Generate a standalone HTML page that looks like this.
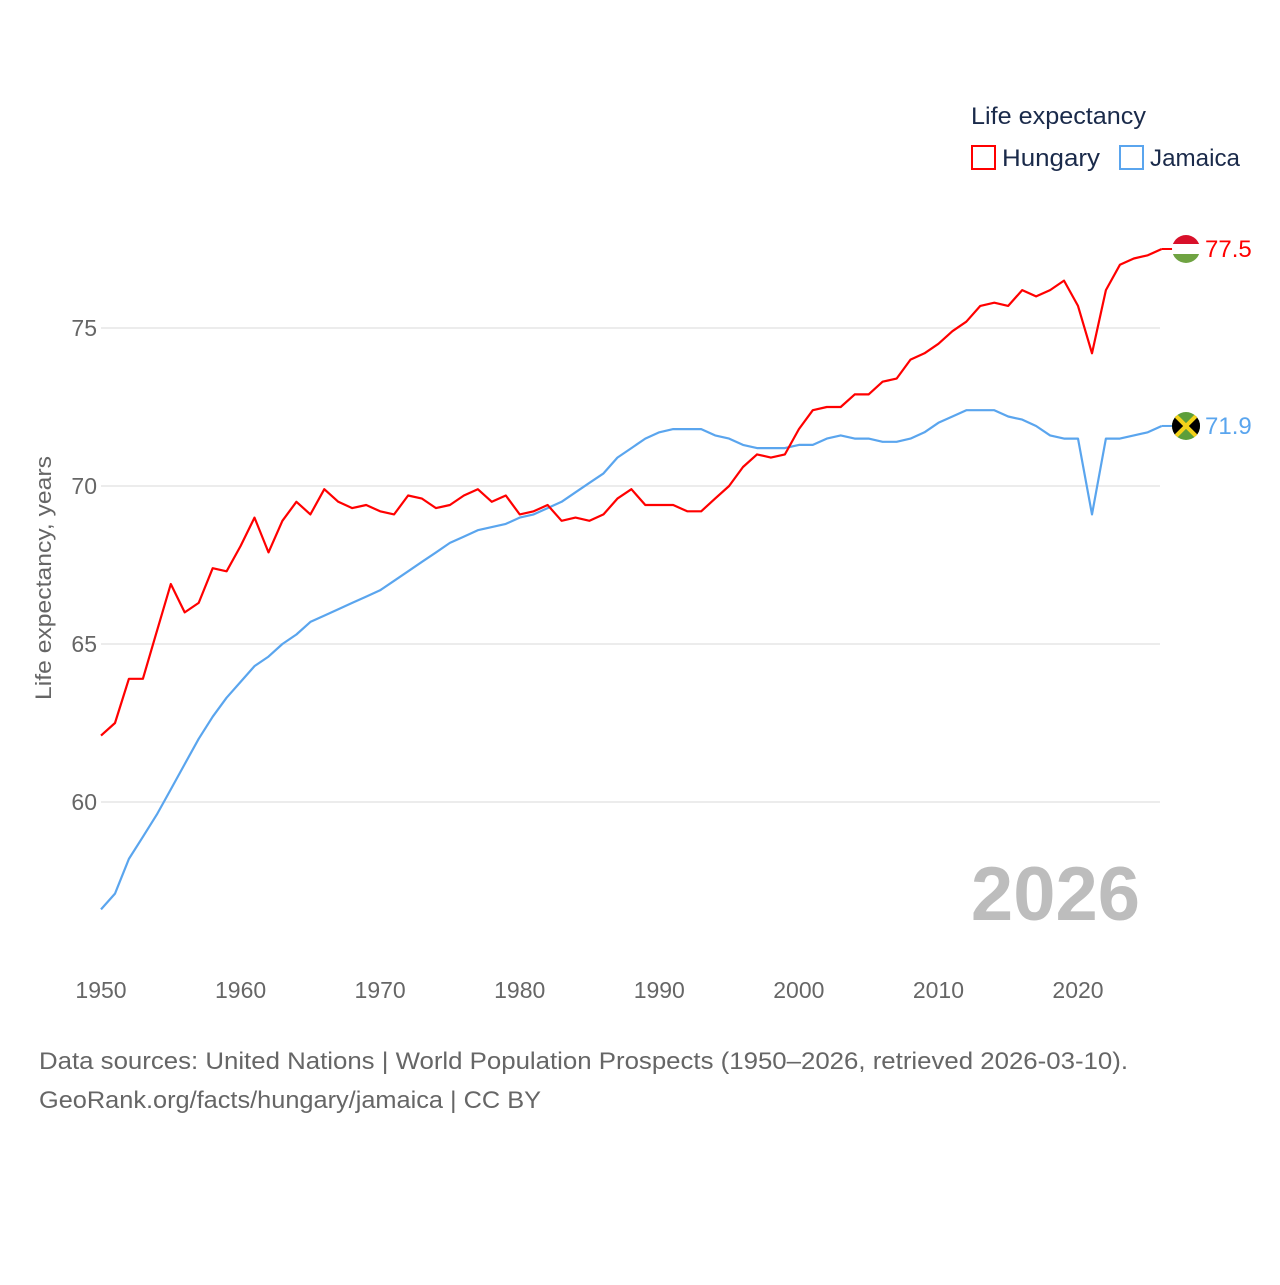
<!DOCTYPE html>
<html><head><meta charset="utf-8"><style>
body{margin:0;background:#fff;}
svg text{font-family:"Liberation Sans",sans-serif;}
</style></head><body>
<svg id="chart" width="1280" height="1280" xmlns="http://www.w3.org/2000/svg">
<defs>
<clipPath id="c1"><circle cx="0" cy="0" r="14"/></clipPath>
</defs>
<g id="grid"></g>
<g id="yticks"></g>
<g id="xticks"></g>
<text transform="translate(51,578) rotate(-90)" text-anchor="middle" font-size="22" fill="#666" textLength="244" lengthAdjust="spacingAndGlyphs">Life expectancy, years</text>
<text x="1140" y="920" text-anchor="end" font-size="76" font-weight="bold" fill="#bdbdbd">2026</text>
<g id="series"></g>
<g>
<text x="971" y="124" font-size="24" fill="#1a2a4a" textLength="175" lengthAdjust="spacingAndGlyphs">Life expectancy</text>
<g>
<rect x="972" y="146" width="23" height="23" fill="none" stroke="#ff0000" stroke-width="2"/>
<text x="1002" y="166" font-size="24" fill="#1a2a4a" textLength="98" lengthAdjust="spacingAndGlyphs">Hungary</text></g>
<g>
<rect x="1120" y="146" width="23" height="23" fill="none" stroke="#5aa5ee" stroke-width="2"/>
<text x="1150" y="166" font-size="24" fill="#1a2a4a" textLength="90" lengthAdjust="spacingAndGlyphs">Jamaica</text></g>
</g>
<text x="39" y="1069" font-size="24" fill="#666" textLength="1089" lengthAdjust="spacingAndGlyphs">Data sources: United Nations | World Population Prospects (1950–2026, retrieved 2026-03-10).</text>
<text x="39" y="1108" font-size="24" fill="#666" textLength="502" lengthAdjust="spacingAndGlyphs">GeoRank.org/facts/hungary/jamaica | CC BY</text>
</svg>
<script>
const years = [];
for (let y = 1950; y <= 2026; y++) years.push(y);
const hungary = [62.1,62.5,63.9,63.9,65.4,66.9,66.0,66.3,67.4,67.3,
68.1,69.0,67.9,68.9,69.5,69.1,69.9,69.5,69.3,69.4,
69.2,69.1,69.7,69.6,69.3,69.4,69.7,69.9,69.5,69.7,
69.1,69.2,69.4,68.9,69.0,68.9,69.1,69.6,69.9,69.4,
69.4,69.4,69.2,69.2,69.6,70.0,70.6,71.0,70.9,71.0,
71.8,72.4,72.5,72.5,72.9,72.9,73.3,73.4,74.0,74.2,
74.5,74.9,75.2,75.7,75.8,75.7,76.2,76.0,76.2,76.5,
75.7,74.2,76.2,77.0,77.2,77.3,77.5];
const jamaica = [56.6,57.1,58.2,58.9,59.6,60.4,61.2,62.0,62.7,63.3,
63.8,64.3,64.6,65.0,65.3,65.7,65.9,66.1,66.3,66.5,
66.7,67.0,67.3,67.6,67.9,68.2,68.4,68.6,68.7,68.8,
69.0,69.1,69.3,69.5,69.8,70.1,70.4,70.9,71.2,71.5,
71.7,71.8,71.8,71.8,71.6,71.5,71.3,71.2,71.2,71.2,
71.3,71.3,71.5,71.6,71.5,71.5,71.4,71.4,71.5,71.7,
72.0,72.2,72.4,72.4,72.4,72.2,72.1,71.9,71.6,71.5,
71.5,69.1,71.5,71.5,71.6,71.7,71.9];
const yTicks = [60,65,70,75];
const xTicks = [1950,1960,1970,1980,1990,2000,2010,2020];

const NS = "http://www.w3.org/2000/svg";
const xs = y => 101 + (y - 1950) * (977/70);
const ys = v => 328 + (75 - v) * 31.6;
function mk(tag, attrs, parent) {
  const e = document.createElementNS(NS, tag);
  for (const k in attrs) e.setAttribute(k, attrs[k]);
  parent.appendChild(e); return e;
}
const grid = document.getElementById('grid');
const yt = document.getElementById('yticks');
const xt = document.getElementById('xticks');
const ser = document.getElementById('series');
yTicks.forEach(v => {
  const l = mk('line', {x1:101, x2:1160, y1:ys(v), y2:ys(v), stroke:'#e6e6e6', 'stroke-width':1.5}, grid);
  
  
  const t = mk('text', {x:97, y:ys(v)+8, 'text-anchor':'end', 'font-size':23, fill:'#666'}, yt);
  t.textContent = v;
  
  
});
xTicks.forEach(v => {
  const t = mk('text', {x:xs(v), y:998, 'text-anchor':'middle', 'font-size':23, fill:'#666'}, xt);
  t.textContent = v;
  
  
});
function drawLine(vals, color, name) {
  const pts = vals.map((v,i) => xs(years[i]).toFixed(1) + ',' + ys(v).toFixed(1)).join(' ');
  const p = mk('polyline', {points:pts, fill:'none', stroke:color, 'stroke-width':2.2, 'stroke-linejoin':'round'}, ser);
  
  
}
drawLine(jamaica, '#5aa5ee', 'jamaica');
drawLine(hungary, '#ff0000', 'hungary');

function endLabel(vals, color, name, flag) {
  const v = vals[vals.length-1];
  const x = xs(years[years.length-1]), y = ys(v);
  mk('line', {x1:x, x2:1174, y1:y, y2:y, stroke:color, 'stroke-width':2}, ser);
  const g = mk('g', {transform:'translate(1186,' + y.toFixed(1) + ')'}, ser);
  
  
  const inner = mk('g', {'clip-path':'url(#c1)'}, g);
  flag(inner);
  const t = mk('text', {x:1205, y:y+8, 'font-size':24, fill:color}, ser);
  t.textContent = v.toFixed(1);
  
  
}
endLabel(hungary, '#ff0000', 'hungary', g => {
  mk('rect', {x:-15, y:-15, width:30, height:10, fill:'#d8102a'}, g);
  mk('rect', {x:-15, y:-5, width:30, height:10, fill:'#fff'}, g);
  mk('rect', {x:-15, y:5, width:30, height:10, fill:'#6fa342'}, g);
});
endLabel(jamaica, '#5aa5ee', 'jamaica', g => {
  mk('rect', {x:-15, y:-15, width:30, height:30, fill:'#5c9e3a'}, g);
  mk('polygon', {points:'-15,-15 0,0 -15,15', fill:'#000'}, g);
  mk('polygon', {points:'15,-15 0,0 15,15', fill:'#000'}, g);
  mk('line', {x1:-15, y1:-15, x2:15, y2:15, stroke:'#f4d21a', 'stroke-width':4}, g);
  mk('line', {x1:-15, y1:15, x2:15, y2:-15, stroke:'#f4d21a', 'stroke-width':4}, g);
});
</script>
</body></html>
